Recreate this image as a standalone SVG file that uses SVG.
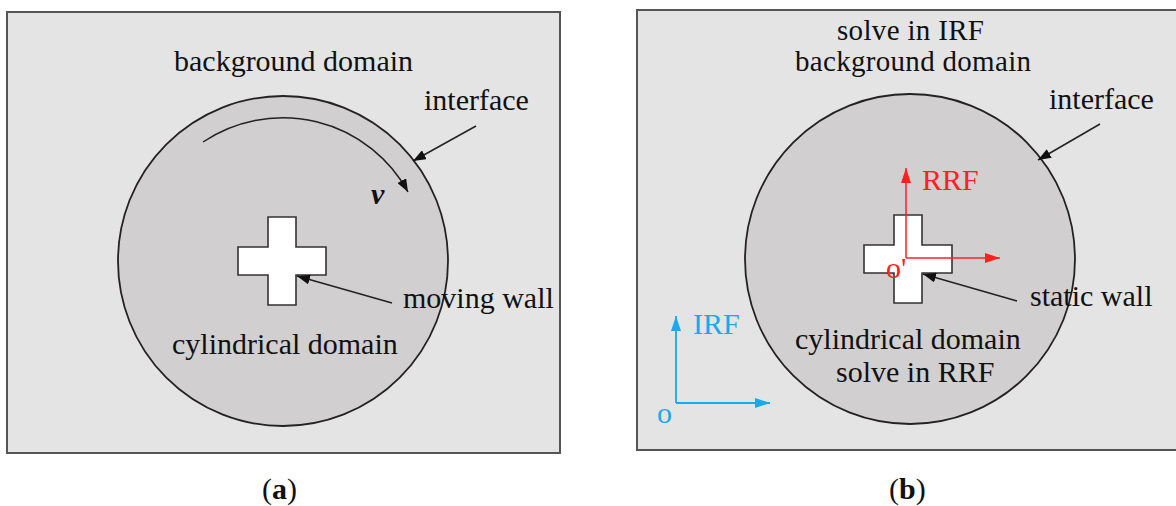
<svg xmlns="http://www.w3.org/2000/svg" width="1176" height="506" viewBox="0 0 1176 506">
<style>
text{font-family:"Liberation Serif","Times New Roman",serif;font-size:30px;fill:#111}
.panel{fill:#e4e4e4;stroke:#555;stroke-width:2}
.cyl{fill:#d1cfd0;stroke:#222;stroke-width:1.8}
.wall{fill:#fff;stroke:#333;stroke-width:1.6}
.ln{fill:none;stroke:#222;stroke-width:1.5}
.red{fill:none;stroke:#ff2020;stroke-width:1.5}
.blue{fill:none;stroke:#19a9ec;stroke-width:1.8}
.tr{fill:#ff2020}
.tb{fill:#19a9ec}
.tight{font-size:29px}
</style>
<defs>
<marker id="ah" markerUnits="userSpaceOnUse" markerWidth="14" markerHeight="10" refX="13" refY="5" orient="auto"><path d="M0,0 L13,5 L0,10 z" fill="#111"/></marker>
<marker id="ahr" markerUnits="userSpaceOnUse" markerWidth="16" markerHeight="10" refX="15" refY="5" orient="auto"><path d="M0,0 L15,5 L0,10 z" fill="#ff2020"/></marker>
<marker id="ahb" markerUnits="userSpaceOnUse" markerWidth="16" markerHeight="10" refX="15" refY="5" orient="auto"><path d="M0,0 L15,5 L0,10 z" fill="#19a9ec"/></marker>
</defs>

<g id="panel-a">
<rect class="panel" x="7" y="12" width="553" height="441"/>
<circle class="cyl" cx="283" cy="261" r="165"/>
<path class="wall" d="M268,217 H296 V247 H326 V275 H296 V305 H268 V275 H238 V247 H268 Z"/>
<text x="174" y="71">background domain</text>
<text x="424" y="110">interface</text>
<text x="371" y="204" style="font-weight:bold;font-style:italic">v</text>
<text x="403" y="308">moving wall</text>
<text x="172" y="354">cylindrical domain</text>
</g>

<g id="panel-b">
<rect class="panel" x="637" y="10" width="545" height="440"/>
<circle class="cyl" cx="910" cy="259" r="165"/>
<path class="wall" d="M894,215 H922 V245 H952 V273 H922 V303 H894 V273 H864 V245 H894 Z"/>
<text x="837" y="40" class="tight" textLength="147">solve in IRF</text>
<text x="795" y="71" class="tight" textLength="236">background domain</text>
<text x="1049" y="109">interface</text>
<text x="922" y="190" class="tr">RRF</text>
<text x="886" y="278" class="tr">o'</text>
<text x="1030" y="306">static wall</text>
<text x="795" y="349">cylindrical domain</text>
<text x="836" y="382">solve in RRF</text>
<text x="693" y="334" class="tb">IRF</text>
<text x="657" y="423" class="tb">o</text>
</g>

<g id="connectors">
<path class="ln" d="M203,142 A143,143 0 0 1 408,192" marker-end="url(#ah)"/>
<line class="ln" x1="476" y1="126" x2="413" y2="161" marker-end="url(#ah)"/>
<line class="ln" x1="392" y1="303" x2="297" y2="276" marker-end="url(#ah)"/>
<line class="ln" x1="1100" y1="124" x2="1038" y2="160" marker-end="url(#ah)"/>
<line class="ln" x1="1017" y1="301" x2="923" y2="274" marker-end="url(#ah)"/>
<path class="red" d="M906,258 V168" marker-end="url(#ahr)"/>
<path class="red" d="M906,258 H1000" marker-end="url(#ahr)"/>
<path class="blue" d="M676,403 V316" marker-end="url(#ahb)"/>
<path class="blue" d="M676,403 H770" marker-end="url(#ahb)"/>
</g>

<g id="captions">
<text x="262" y="499">(<tspan font-weight="bold">a</tspan>)</text>
<text x="889" y="499">(<tspan font-weight="bold">b</tspan>)</text>
</g>
</svg>
